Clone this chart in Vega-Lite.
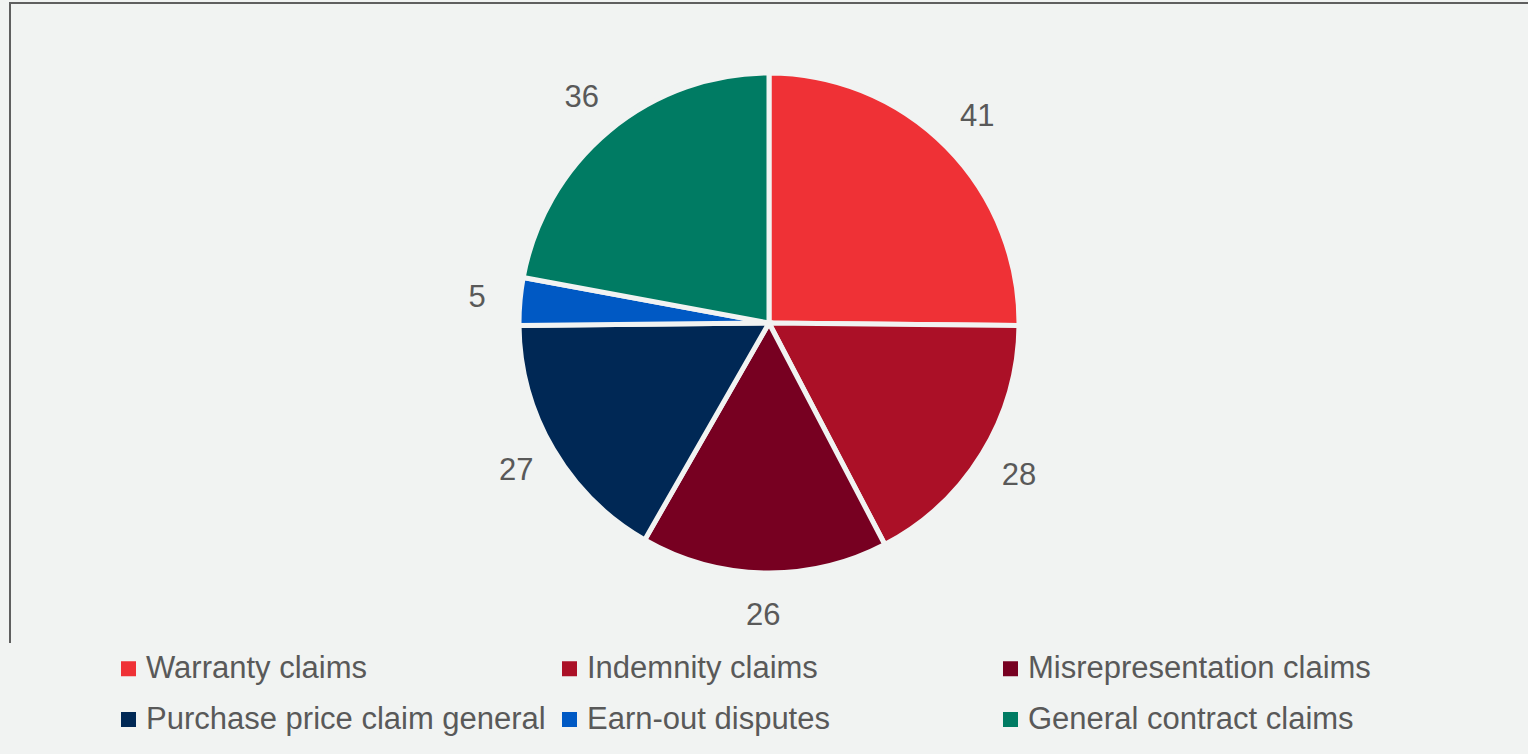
{
  "$schema": "https://vega.github.io/schema/vega-lite/v6.json",
  "autosize": "none",
  "width": 1518,
  "height": 640,
  "padding": {"left": 10, "top": 3, "right": 0, "bottom": 111},
  "background": "#f1f3f2",
  "view": {"stroke": "#5f5f5f", "strokeWidth": 2, "strokeDash": [1518, 2158, 642, 0], "fill": "#f1f3f2"},
  "config": {
    "font": "Liberation Sans"
  },
  "data": {
    "values": [
      {"i": 1, "category": "Warranty claims", "value": 41},
      {"i": 2, "category": "Indemnity claims", "value": 28},
      {"i": 3, "category": "Misrepresentation claims", "value": 26},
      {"i": 4, "category": "Purchase price claim general", "value": 27},
      {"i": 5, "category": "Earn-out disputes", "value": 5},
      {"i": 6, "category": "General contract claims", "value": 36}
    ]
  },
  "encoding": {
    "theta": {"field": "value", "type": "quantitative", "stack": true},
    "order": {"field": "i", "type": "quantitative"},
    "color": {
      "field": "category",
      "type": "nominal",
      "sort": null,
      "scale": {
        "domain": ["Warranty claims", "Indemnity claims", "Misrepresentation claims", "Purchase price claim general", "Earn-out disputes", "General contract claims"],
        "range": ["#ef3136", "#ab1027", "#770021", "#002855", "#0059c4", "#007b63"]
      },
      "legend": {
        "title": null,
        "orient": "none",
        "legendX": 103,
        "legendY": 650,
        "columns": 3,
        "direction": "horizontal",
        "gridAlign": "all",
        "columnPadding": 8,
        "rowPadding": 19,
        "symbolType": "square",
        "symbolSize": 225,
        "symbolStrokeWidth": 0,
        "labelFontSize": 31,
        "labelColor": "#595959",
        "labelOffset": 2,
        "labelLimit": 600
      }
    }
  },
  "layer": [
    {
      "mark": {"type": "arc", "outerRadius": 250, "stroke": "#f1f3f2", "strokeWidth": 5}
    },
    {
      "mark": {"type": "text", "radius": 293, "fontSize": 31, "align": "center", "baseline": "middle"},
      "encoding": {
        "text": {"field": "value", "type": "quantitative"},
        "color": {"value": "#595959"}
      }
    }
  ]
}
